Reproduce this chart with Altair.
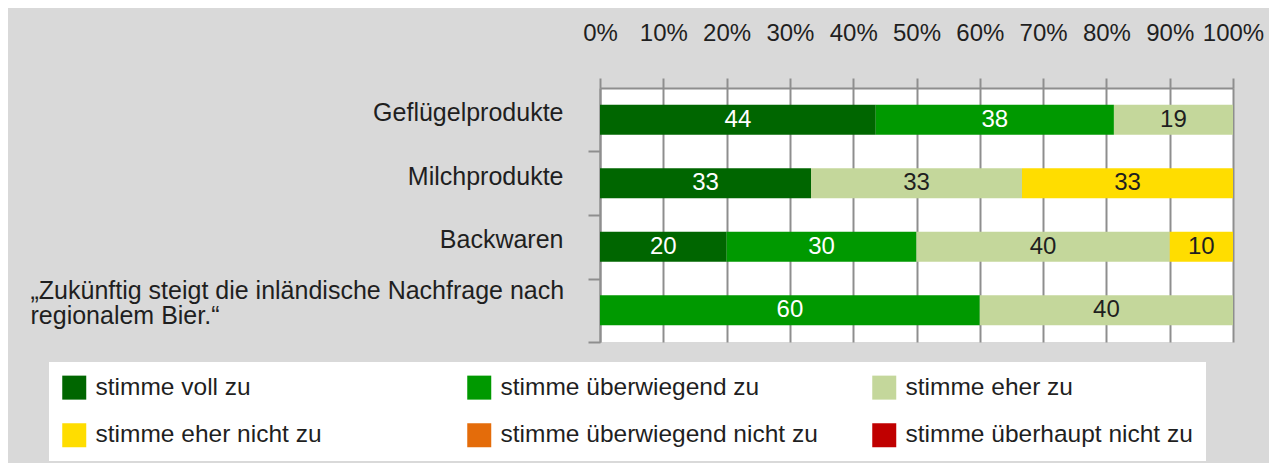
import altair as alt
import pandas as pd

categories = [
    "Geflügelprodukte",
    "Milchprodukte",
    "Backwaren",
    "„Zukünftig steigt die inländische Nachfrage nach\nregionalem Bier.“",
]
responses = [
    "stimme voll zu",
    "stimme überwiegend zu",
    "stimme eher zu",
    "stimme eher nicht zu",
    "stimme überwiegend nicht zu",
    "stimme überhaupt nicht zu",
]
colors = ["#006600", "#009900", "#C4D79B", "#FFDD00", "#E46C0A", "#C00000"]

# values per category, in the order of `responses`
gefluegel = [44, 38, 19, 0, 0, 0]
milch = [33, 0, 33, 33, 0, 0]
backwaren = [20, 30, 40, 10, 0, 0]
bier = [0, 60, 40, 0, 0, 0]

tick_values = [0, 0.1, 0.2, 0.3, 0.4, 0.5, 0.6, 0.7, 0.8, 0.9, 1.0]

rows = []
for cat, vals in zip(categories, [gefluegel, milch, backwaren, bier]):
    for i, (resp, v) in enumerate(zip(responses, vals)):
        if v > 0:
            rows.append({"category": cat, "response": resp, "order": i, "value": v})
df = pd.DataFrame(rows)

FONT = "Liberation Sans"
TXT = "#1f1f1f"
GRID = "#8E8E8E"
MULTI = "indexof(datum.value, 'Bier') >= 0"

base = alt.Chart(df).transform_stack(
    stack="value",
    groupby=["category"],
    as_=["x0", "x1"],
    sort=[alt.SortField("order")],
    offset="normalize",
).transform_calculate(mid="(datum.x0 + datum.x1) / 2")

y_enc = alt.Y(
    "category:N",
    sort=categories,
    scale=alt.Scale(paddingInner=0.528, paddingOuter=0.264),
    axis=alt.Axis(
        title=None,
        orient="left",
        labelFont=FONT,
        labelFontSize=25,
        labelColor=TXT,
        labelPadding={"condition": {"test": MULTI, "value": 558}, "value": 25},
        labelAlign={"condition": {"test": MULTI, "value": "left"}, "value": "right"},
        labelOffset={"condition": {"test": MULTI, "value": -52}, "value": -38.75},
        tickOffset=31.75,
        labelLimit=800,
        labelBaseline="middle",
        labelLineHeight=25,
        labelExpr="split(datum.label, '\\n')",
        tickSize=12,
        tickWidth=2,
        tickColor=GRID,
        domainColor=GRID,
        domainWidth=2,
        grid=False,
    ),
)

bars = base.mark_bar().encode(
    x=alt.X(
        "x0:Q",
        scale=alt.Scale(domain=[0, 1]),
        axis=alt.Axis(
            title=None,
            orient="top",
            format=".0%",
            values=tick_values,
            labelFont=FONT,
            labelFontSize=24,
            labelColor=TXT,
            labelPadding=33,
            labelFlush=False,
            tickSize=10,
            tickWidth=2,
            tickColor=GRID,
            domainColor=GRID,
            domainWidth=2,
            grid=True,
            gridColor=GRID,
            gridWidth=2,
        ),
    ),
    x2="x1:Q",
    y=y_enc,
    color=alt.Color(
        "response:N",
        scale=alt.Scale(domain=responses, range=colors),
        legend=alt.Legend(
            title=None,
            orient="none",
            legendX=-551,
            legendY=274,
            direction="horizontal",
            columns=3,
            gridAlign="all",
            symbolType="square",
            symbolSize=576,
            symbolStrokeWidth=0,
            labelFont=FONT,
            labelFontSize=24.5,
            labelColor=TXT,
            labelOffset=9,
            labelLimit=500,
            columnPadding=54,
            rowPadding=22,
            padding=13,
            fillColor="white",
        ),
    ),
)

texts = base.mark_text(font=FONT, fontSize=24, baseline="middle").encode(
    x=alt.X("mid:Q"),
    y=alt.Y("category:N", sort=categories),
    text=alt.Text("value:Q"),
    color=alt.condition("datum.order < 2", alt.value("white"), alt.value(TXT)),
)

chart = (
    alt.layer(bars, texts)
    .properties(
        width=633,
        height=254,
        autosize=alt.AutoSizeParams(type="none"),
        padding={"left": 592, "top": 80, "right": 36, "bottom": 121},
        background="#D9D9D9",
    )
    .configure(font=FONT)
    .configure_view(fill="white", strokeWidth=0)
)

chart.save("out.html", embed_options={"renderer": "svg", "actions": False})
